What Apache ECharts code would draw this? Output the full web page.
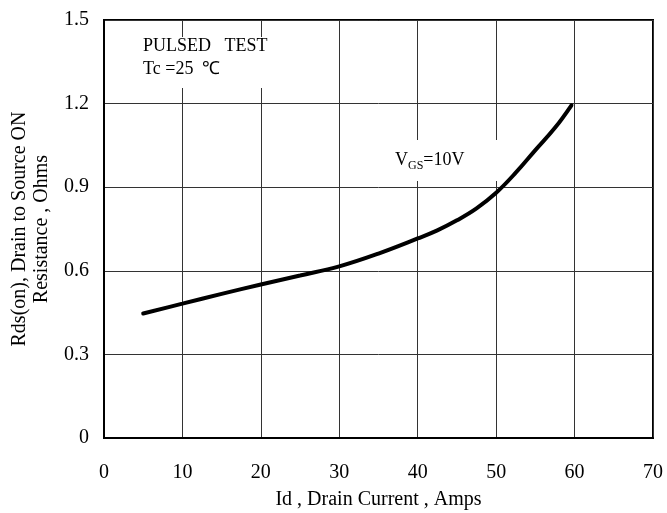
<!DOCTYPE html>
<html>
<head>
<meta charset="utf-8">
<script src="https://cdn.jsdelivr.net/npm/echarts@6/dist/echarts.min.js"></script>
<style>
  html, body { margin: 0; padding: 0; background: #fff; }
  #chart { width: 667px; height: 513px; }
</style>
</head>
<body>
<div id="chart"></div>
<script>
// Drain current (A) and on-resistance (Ohm) at VGS = 10 V
const drainCurrent = [5, 10, 15, 20, 25, 30, 35, 40, 42.5, 45, 47.5, 50, 52.5, 55, 57.5, 59.6];
const rdsOn = [0.447, 0.482, 0.517, 0.551, 0.583, 0.616, 0.662, 0.716, 0.745, 0.781, 0.824, 0.880, 0.952, 1.033, 1.113, 1.194];

const xTicks = { min: 0, max: 70, interval: 10 };
const yTicks = { min: 0, max: 1.5, interval: 0.3 };

const FONT = '"Liberation Serif", "Times New Roman", serif';

const chart = echarts.init(document.getElementById('chart'), null, { renderer: 'canvas' });

chart.setOption({
  animation: false,
  backgroundColor: '#fff',
  textStyle: { fontFamily: FONT, color: '#000' },
  grid: {
    left: 104, right: 14, top: 20, bottom: 75,
    containLabel: false,
    outerBoundsMode: 'none',
    show: true, borderColor: '#000', borderWidth: 2, backgroundColor: 'transparent'
  },
  xAxis: {
    type: 'value',
    min: xTicks.min, max: xTicks.max, interval: xTicks.interval,
    name: 'Id , Drain Current , Amps',
    nameLocation: 'middle',
    nameGap: 52,
    nameTextStyle: { fontFamily: FONT, fontSize: 20, color: '#000' },
    axisLine: { show: true, lineStyle: { color: '#000', width: 2 } },
    axisTick: { show: false },
    axisLabel: { margin: 25, fontFamily: FONT, fontSize: 20, color: '#000' },
    splitLine: { show: true, lineStyle: { color: '#333', width: 1 } }
  },
  yAxis: {
    type: 'value',
    min: yTicks.min, max: yTicks.max, interval: yTicks.interval,
    name: 'Rds(on), Drain to Source ON\nResistance , Ohms',
    nameLocation: 'middle',
    nameGap: 46,
    nameTextStyle: { fontFamily: FONT, fontSize: 20, color: '#000', lineHeight: 22 },
    axisLine: { show: true, lineStyle: { color: '#000', width: 2 } },
    axisTick: { show: false },
    axisLabel: {
      margin: 15, fontFamily: FONT, fontSize: 20, color: '#000',
      formatter: v => (v === 0 ? '0' : v.toFixed(1))
    },
    splitLine: { show: true, lineStyle: { color: '#333', width: 1 } }
  },
  series: [{
    type: 'line',
    data: drainCurrent.map((x, i) => [x, rdsOn[i]]),
    smooth: 0.4,
    symbol: 'none',
    z: 3,
    lineStyle: { color: '#000', width: 4, cap: 'round' }
  }],
  graphic: {
    elements: [
      { type: 'rect', z: 1, shape: { x: 136, y: 37, width: 140, height: 51 }, style: { fill: '#fff' } },
      { type: 'text', z: 2, left: 143, top: 37, style: { text: 'PULSED   TEST', font: '18px ' + FONT, fill: '#000' } },
      { type: 'text', z: 2, left: 143, top: 60, style: { text: 'Tc =25  ℃', font: '18px ' + FONT, fill: '#000' } },
      { type: 'rect', z: 1, shape: { x: 386, y: 140, width: 120, height: 41 }, style: { fill: '#fff' } },
      {
        type: 'text', z: 2, left: 395, top: 151,
        style: {
          text: '{v|V}{s|GS}{v|=10V}',
          rich: {
            v: { fontFamily: FONT, fontSize: 18, fill: '#000', verticalAlign: 'bottom' },
            s: { fontFamily: FONT, fontSize: 12, fill: '#000', verticalAlign: 'bottom', padding: [0, 0, -3, 0] }
          }
        }
      }
    ]
  }
});
</script>
</body>
</html>
